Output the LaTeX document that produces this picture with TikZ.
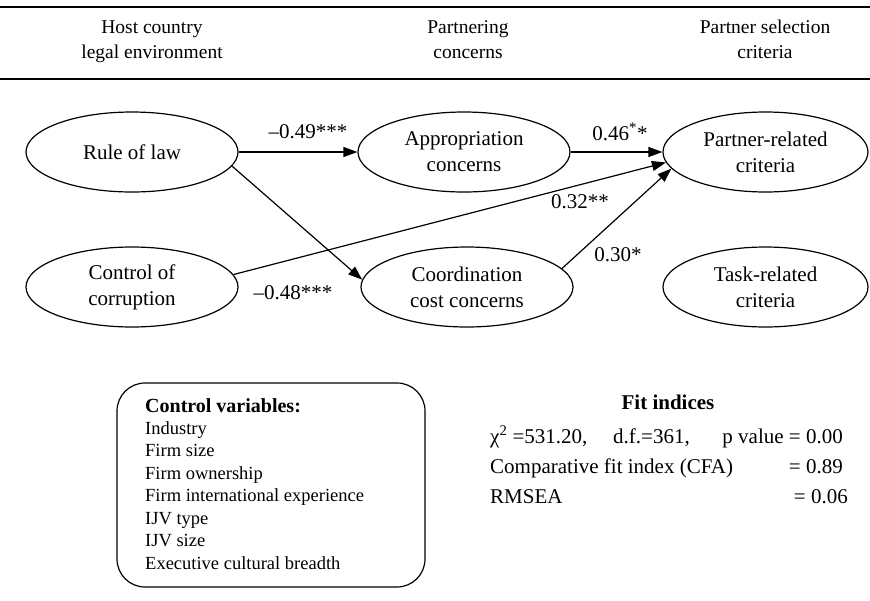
\documentclass[tikz,border=0pt]{standalone}
\usepackage{fontspec}
\setmainfont{Liberation Serif}
\usetikzlibrary{shapes.geometric,arrows.meta}
\begin{document}
\begin{tikzpicture}[x=1pt,y=-1pt,
  hdr/.style={align=center,font=\fontsize{19.5}{25}\selectfont,inner sep=0pt},
  var/.style={ellipse,draw,line width=1.2pt,minimum width=212pt,minimum height=80pt,inner sep=0pt,align=center,font=\fontsize{21}{26}\selectfont},
  conn/.style={line width=1.2pt,-{Triangle[length=14pt,width=10pt]}},
  lbl/.style={font=\fontsize{21}{26}\selectfont,inner sep=0pt},
  fit/.style={font=\fontsize{21}{26}\selectfont,inner sep=0pt},
  ctl/.style={font=\fontsize{18.5}{22}\selectfont,inner sep=0pt,anchor=base west},
  rule/.style={line width=1.5pt}]
\useasboundingbox (0,0) rectangle (870,600);
% header
\coordinate (tl) at (0,7); \coordinate (tr) at (870,7);
\coordinate (bl) at (0,79); \coordinate (br) at (870,79);
\draw[rule] (tl) -- (tr);
\draw[rule] (bl) -- (br);
\node[hdr] (h1) at (152,41) {\strut Host country\strut\\\strut legal environment\strut};
\node[hdr] (h2) at (468,41) {\strut Partnering\strut\\\strut concerns\strut};
\node[hdr] (h3) at (765,41) {\strut Partner selection\strut\\\strut criteria\strut};
% variables
\node[var] (rol) at (132,152) {Rule of law};
\node[var] (corr) at (132,287) {Control of\\corruption};
\node[var] (appr) at (464,152) {Appropriation\\concerns};
\node[var] (coord) at (467,287) {Coordination\\cost concerns};
\node[var,minimum width=205pt] (prc) at (765.5,152) {Partner-related\\criteria};
\node[var,minimum width=205pt] (trc) at (765.5,287) {Task-related\\criteria};
% connectors
\draw[conn] (rol.east) -- (appr.west);
\draw[conn] (rol.-8.5) -- (coord.176);
\draw[conn] (corr.7.7) -- (prc.186);
\draw[conn] (appr.east) -- (prc.west);
\draw[conn] (coord.11.8) -- (prc.190);
% labels
\node[lbl] (l1) at (308,132) {–0.49***};
\node[lbl] (l2) at (293,293) {–0.48***};
\node[lbl] (l3) at (620,132) {0.46\textsuperscript{*}*};
\node[lbl] (l4) at (580,202) {0.32**};
\node[lbl] (l5) at (618,255) {0.30*};
% control variables box
\draw[line width=1.2pt,rounded corners=28pt] (117,383) rectangle (425,587);
\node[ctl,font=\fontsize{20}{24}\selectfont\bfseries] (cvh) at (145,412) {Control variables:};
\node[ctl] (c1) at (145,434) {Industry};
\node[ctl] (c2) at (145,456.5) {Firm size};
\node[ctl] (c3) at (145,479) {Firm ownership};
\node[ctl] (c4) at (145,501.5) {Firm international experience};
\node[ctl] (c5) at (145,524) {IJV type};
\node[ctl] (c6) at (145,546.5) {IJV size};
\node[ctl] (c7) at (145,569) {Executive cultural breadth};
% fit indices
\node[fit,font=\fontsize{21}{26}\selectfont\bfseries,anchor=base] (fh) at (668,409) {Fit indices};
\node[fit,anchor=base west] (f1a) at (490,443) {χ\textsuperscript{2} =531.20,};
\node[fit,anchor=base west] (f1b) at (613,443) {d.f.=361,};
\node[fit,anchor=base east] (f1c) at (843,443) {p value = 0.00};
\node[fit,anchor=base west] (f2a) at (490,473) {Comparative fit index (CFA)};
\node[fit,anchor=base east] (f2b) at (843,473) {= 0.89};
\node[fit,anchor=base west] (f3a) at (490,503) {RMSEA};
\node[fit,anchor=base east] (f3b) at (848,503) {= 0.06};
\end{tikzpicture}
\end{document}
